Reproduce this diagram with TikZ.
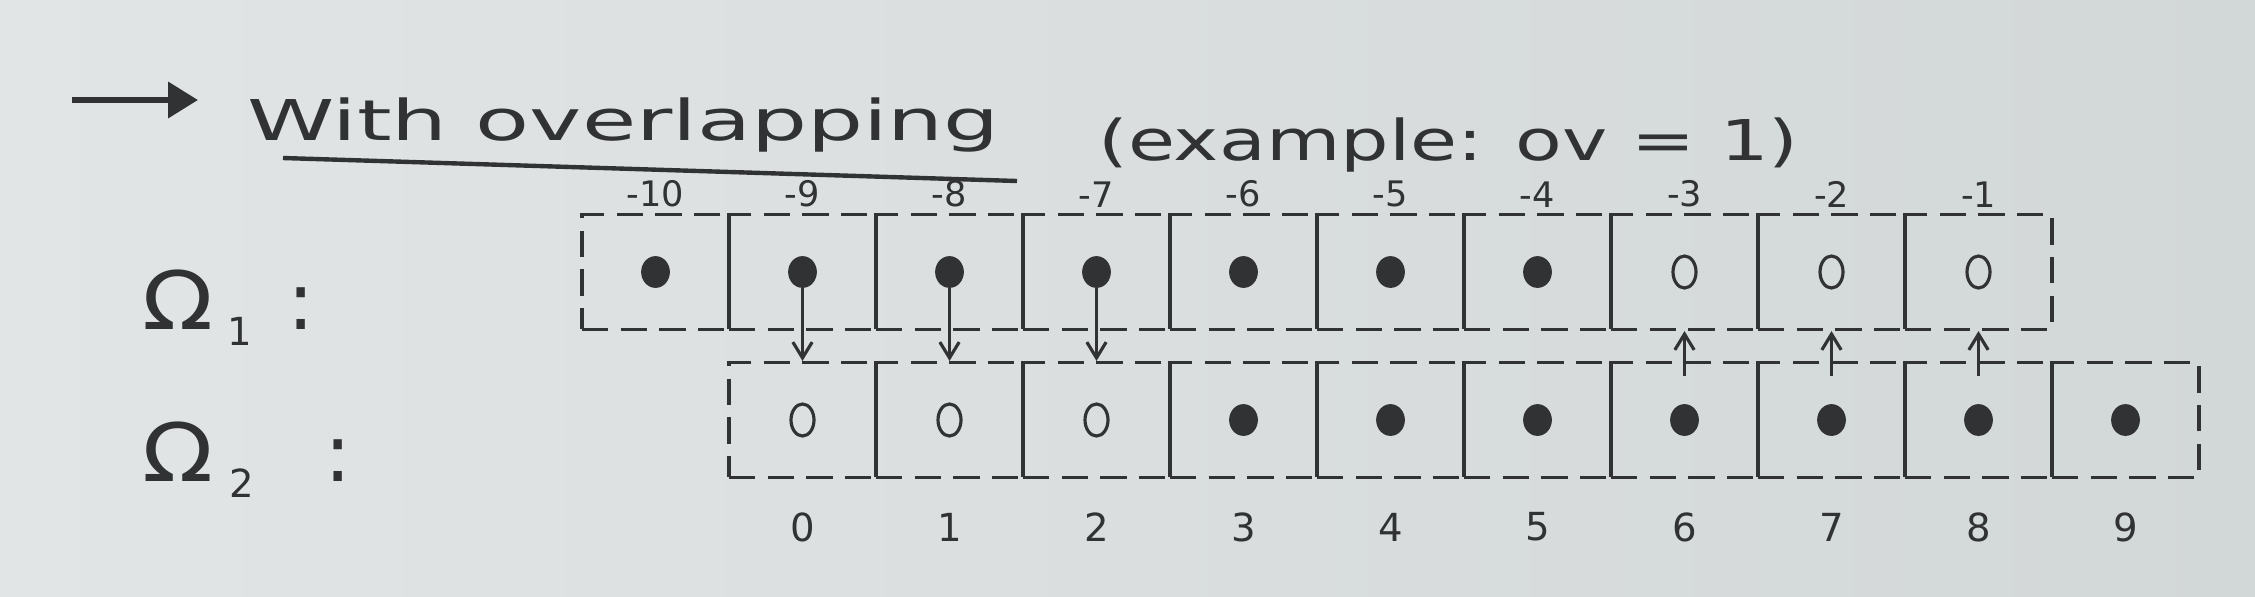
\documentclass[tikz,border=0pt]{standalone}
\usepackage{fontspec}
\setmainfont{DejaVu Sans}
\usetikzlibrary{arrows.meta,shapes.geometric}
\definecolor{ink}{RGB}{48,50,52}
\definecolor{paperL}{RGB}{226,229,229}
\definecolor{paperR}{RGB}{210,215,215}
\tikzset{
  cell/.style={draw=ink, line width=1.8pt, dash pattern=on 15pt off 7pt,
    minimum width=2.94cm, minimum height=2.3cm, inner sep=0pt},
  filldot/.style={ellipse, fill=ink, draw=ink, line width=1pt,
    minimum width=0.54cm, minimum height=0.6cm, inner sep=0pt},
  hollowdot/.style={ellipse, draw=ink, line width=1.8pt,
    minimum width=0.46cm, minimum height=0.64cm, inner sep=0pt},
  toplab/.style={text=ink, font=\fontsize{20}{24}\selectfont, anchor=south, inner sep=3pt},
  botlab/.style={text=ink, font=\fontsize{22}{26}\selectfont},
  link/.style={draw=ink, line width=1.8pt, -{Straight Barb[length=9pt,width=11pt]}},
  txt/.style={text=ink, inner sep=0pt},
}
\begin{document}
\begin{tikzpicture}[x=0.02cm,y=-0.02cm]
\shade[left color=paperL, right color=paperR] (0,0) rectangle (2255,596);
\useasboundingbox (0,0) rectangle (2255,596);

% title line
\coordinate (arrS) at (72,100);
\coordinate (arrE) at (198,100);
\draw[draw=ink, line width=3.5pt, -{Triangle[length=17pt,width=20pt]}] (arrS) -- (arrE);
\node[txt, anchor=base west] (title) at (247,140)
  {\scalebox{1.57}[1]{\fontsize{32}{36}\selectfont With overlapping}};
\coordinate (ul1) at (283,158);
\coordinate (ul2) at (1017,181);
\draw[draw=ink, line width=2.5pt] (ul1) -- (ul2);
\node[txt, anchor=base west] (example) at (1098,160)
  {\scalebox{1.36}[1]{\fontsize{32}{36}\selectfont (example: ov = 1)}};

% row names
\node[txt, anchor=west] (om1) at (142,308)
  {\fontsize{46}{50}\selectfont\scalebox{1.15}[1]{Ω}\kern8pt\raisebox{-9pt}{\fontsize{22}{24}\selectfont 1}\kern20pt:};
\node[txt, anchor=west] (om2) at (142,460)
  {\fontsize{46}{50}\selectfont\scalebox{1.15}[1]{Ω}\kern9pt\raisebox{-9pt}{\fontsize{22}{24}\selectfont 2}\kern40pt:};

% top row: -10 .. -1
\foreach \k in {0,...,9} {
  \pgfmathtruncatemacro\lab{\k-10}
  \node[cell] (t\k) at ({655.5+147*\k},272) {};
  \node[toplab] (tl\k) at (t\k.north) {\lab};
  \ifnum\k<7
    \node[filldot] (td\k) at (t\k) {};
  \else
    \node[hollowdot] (td\k) at (t\k) {};
  \fi
}

% bottom row: 0 .. 9
\foreach \i in {0,...,9} {
  \node[cell] (b\i) at ({802.5+147*\i},420) {};
  \node[botlab] (bl\i) at ({802.5+147*\i},527) {\i};
  \ifnum\i<3
    \node[hollowdot] (bd\i) at (b\i) {};
  \else
    \node[filldot] (bd\i) at (b\i) {};
  \fi
}

% copies
\draw[link] (td1.south) -- (b0.north);
\draw[link] (td2.south) -- (b1.north);
\draw[link] (td3.south) -- (b2.north);
\draw[link] ([yshift=-0.3cm]b6.north) -- (t7.south);
\draw[link] ([yshift=-0.3cm]b7.north) -- (t8.south);
\draw[link] ([yshift=-0.3cm]b8.north) -- (t9.south);
\end{tikzpicture}
\end{document}
